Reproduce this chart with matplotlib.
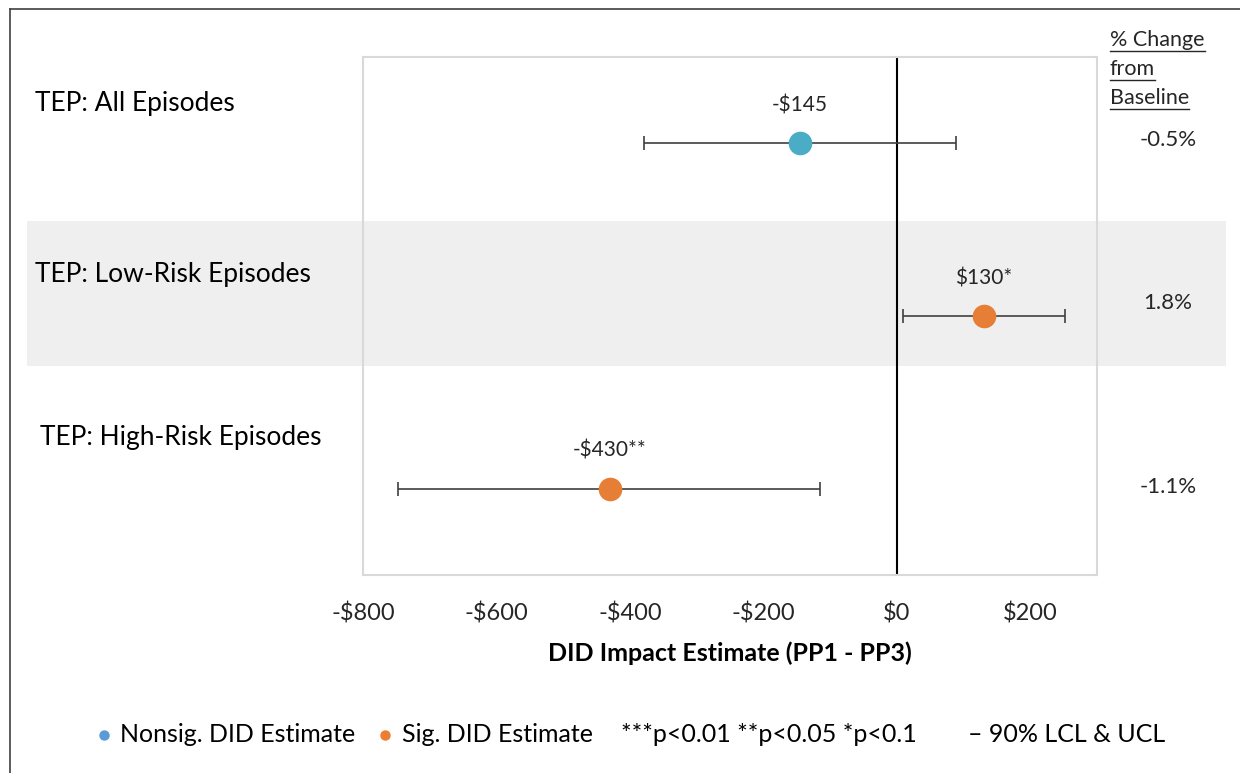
import matplotlib
matplotlib.use("Agg")
import matplotlib.pyplot as plt
from matplotlib.lines import Line2D
from matplotlib.patches import Rectangle
from matplotlib.transforms import blended_transform_factory

plt.rcParams['font.family'] = ['Lato', 'DejaVu Sans']

# DID estimates with 90% confidence limits
groups = ["TEP: All Episodes", "TEP: Low-Risk Episodes", "TEP: High-Risk Episodes"]
estimates = [-145, 130, -430]
lcl = [-379, 9, -748]
ucl = [88, 252, -115]
value_labels = ["-$145", "$130*", "-$430**"]
significant = [False, True, True]
pct_change = ["-0.5%", "1.8%", "-1.1%"]
pct_header = ["% Change", "from", "Baseline"]

x_ticks = [-800, -600, -400, -200, 0, 200]
x_tick_labels = ["-$800", "-$600", "-$400", "-$200", "$0", "$200"]

legend_labels = ["Nonsig. DID Estimate", "Sig. DID Estimate",
                 "***p<0.01 **p<0.05 *p<0.1", "\u2013 90% LCL & UCL"]

nonsig_color = "#4BACC6"
sig_color = "#E67E35"
legend_blue = "#5B9BD5"
legend_orange = "#ED7D31"
text_color = "#262626"

fig = plt.figure(figsize=(12.4, 7.73), dpi=100)
W, H = 1240, 773
ax = fig.add_axes([363 / W, 1 - 575 / H, 734 / W, 518 / H])
ax.set_facecolor("none")

ax.set_xlim(-800, 300)
ax.set_ylim(2.5, -0.5)

# shaded band behind the middle row, running past the plot frame
band_tr = blended_transform_factory(fig.transFigure, ax.transData)
fig.patches.append(Rectangle((27 / W, 0.45), (1226 - 27) / W, 0.84,
                             transform=band_tr, facecolor="#EFEFEF",
                             edgecolor="none", zorder=-5))

ax.axvline(0, color="black", lw=1.5, zorder=2)

for i, (est, lo, hi) in enumerate(zip(estimates, lcl, ucl)):
    ax.errorbar(est, i, xerr=[[est - lo], [hi - est]], fmt="none",
                ecolor="#404040", elinewidth=1.2, capsize=5, capthick=1.2,
                zorder=3)
    color = sig_color if significant[i] else nonsig_color
    ax.plot(est, i, "o", ms=17, color=color, mec="none", zorder=4)
    ax.text(est, i - 0.22, value_labels[i], ha="center", va="center",
            fontsize=15, color=text_color)

for spine in ax.spines.values():
    spine.set_color("#D9D9D9")
    spine.set_linewidth(1.5)

ax.set_yticks([])
ax.set_xticks(x_ticks)
ax.set_xticklabels(x_tick_labels, fontsize=17, color=text_color)
ax.tick_params(axis="x", length=0, pad=20)
ax.set_xlabel("DID Impact Estimate (PP1 - PP3)", fontsize=18,
              fontweight="bold", color="black", labelpad=12)

# row labels on the left
label_pos = [(35, 104), (35, 274), (40, 438)]
for name, (px, py) in zip(groups, label_pos):
    fig.text(px / W, 1 - py / H, name, fontsize=19, color="black",
             ha="left", va="center")

# percent change column, header underlined
renderer = fig.canvas.get_renderer()
for line, py in zip(pct_header, [40, 69, 98]):
    t = fig.text(1110 / W, 1 - py / H, line, fontsize=15.5, color=text_color,
                 ha="left", va="center")
    bb = t.get_window_extent(renderer)
    uy = 1 - (py + 11) / H
    fig.add_artist(Line2D([bb.x0 / W, bb.x1 / W], [uy, uy],
                          color=text_color, lw=1))
for txt, py in zip(pct_change, [140, 303, 487]):
    fig.text(1168 / W, 1 - py / H, txt, fontsize=16, color=text_color,
             ha="center", va="center")

# outer frame, left and top edges only
fig.add_artist(Line2D([10 / W, 10 / W], [0, 1 - 9 / H], color="#404040", lw=1.2))
fig.add_artist(Line2D([10 / W, 1], [1 - 9 / H, 1 - 9 / H], color="#404040", lw=1.2))

# legend row along the bottom
ly = 1 - 735 / H
for dot_x, c in [(104, legend_blue), (385, legend_orange)]:
    fig.add_artist(Line2D([dot_x / W], [ly], marker="o", ls="", ms=7.5,
                          color=c, mec="none"))
for lbl, x0 in zip(legend_labels, [120, 402, 621, 968]):
    fig.text(x0 / W, ly, lbl, fontsize=18, color="black",
             ha="left", va="center")

fig.savefig("out.png", dpi=100)
